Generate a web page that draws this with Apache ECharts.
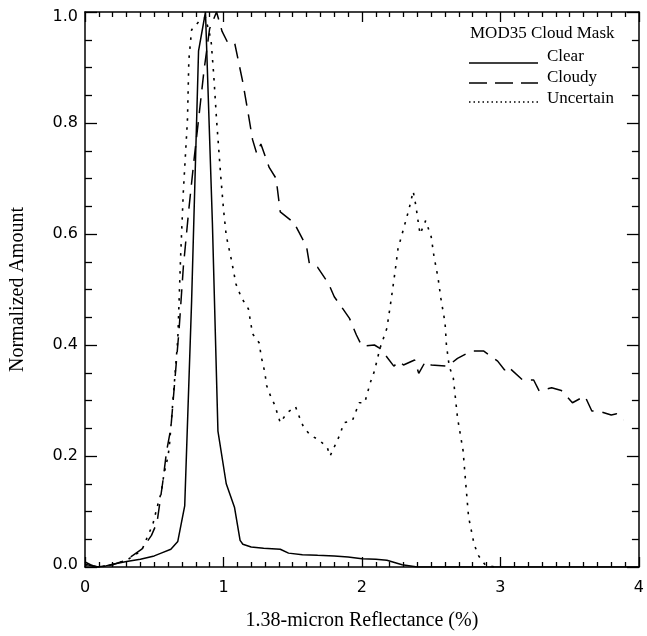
<!DOCTYPE html>
<html>
<head>
<meta charset="utf-8">
<script src="https://cdn.jsdelivr.net/npm/echarts@6/dist/echarts.min.js"></script>
<style>html,body{margin:0;padding:0;background:#fff;}#c{width:647px;height:636px;}</style>
</head>
<body>
<div id="c"></div>
<script>
const xTicks = [0, 1, 2, 3, 4];
const yTicks = [0.0, 0.2, 0.4, 0.6, 0.8, 1.0];
const legendTitle = 'MOD35 Cloud Mask';
const seriesNames = ['Clear', 'Cloudy', 'Uncertain'];

const clearX = [0, 0.04, 0.08, 0.15, 0.2, 0.3, 0.4, 0.5, 0.55, 0.62, 0.67, 0.72, 0.77, 0.82, 0.87, 0.92, 0.96, 1.02, 1.08, 1.12, 1.14, 1.2, 1.29, 1.41, 1.47, 1.57, 1.68, 1.8, 1.9, 2.0, 2.1, 2.18, 2.29, 2.4, 2.6, 2.8, 3.0, 3.5, 4.0];
const clearY = [0.009, 0.004, 0.0, 0.002, 0.005, 0.01, 0.014, 0.02, 0.025, 0.032, 0.046, 0.11, 0.48, 0.93, 1.0, 0.62, 0.245, 0.15, 0.107, 0.048, 0.041, 0.036, 0.034, 0.032, 0.025, 0.022, 0.021, 0.02, 0.018, 0.015, 0.014, 0.012, 0.004, 0.0, 0, 0, 0, 0, 0];

const cloudyX = [0, 0.05, 0.1, 0.2, 0.3, 0.41, 0.48, 0.52, 0.56, 0.59, 0.62, 0.68, 0.71, 0.75, 0.79, 0.82, 0.86, 0.9, 0.95, 0.99, 1.03, 1.08, 1.14, 1.18, 1.21, 1.24, 1.27, 1.33, 1.38, 1.41, 1.51, 1.6, 1.62, 1.68, 1.76, 1.8, 1.86, 1.91, 1.96, 2.0, 2.09, 2.13, 2.16, 2.23, 2.27, 2.3, 2.38, 2.41, 2.46, 2.5, 2.62, 2.69, 2.79, 2.88, 2.98, 3.03, 3.05, 3.16, 3.24, 3.28, 3.37, 3.44, 3.52, 3.61, 3.66, 3.71, 3.8, 3.84, 3.89];
const cloudyY = [0.005, 0.002, 0.0, 0.004, 0.013, 0.032, 0.057, 0.08, 0.15, 0.21, 0.25, 0.43, 0.54, 0.645, 0.74, 0.806, 0.896, 0.97, 1.0, 0.965, 0.945, 0.945, 0.873, 0.815, 0.77, 0.745, 0.762, 0.72, 0.70, 0.64, 0.62, 0.577, 0.547, 0.54, 0.51, 0.487, 0.466, 0.448, 0.418, 0.398, 0.40, 0.394, 0.385, 0.362, 0.371, 0.364, 0.373, 0.349, 0.371, 0.364, 0.362, 0.376, 0.389, 0.389, 0.371, 0.355, 0.362, 0.337, 0.337, 0.317, 0.323, 0.318, 0.296, 0.308, 0.281, 0.281, 0.274, 0.276, 0.265];

const uncertainX = [0, 0.1, 0.2, 0.3, 0.41, 0.45, 0.49, 0.52, 0.55, 0.57, 0.6, 0.61, 0.67, 0.69, 0.71, 0.74, 0.75, 0.77, 0.82, 0.87, 0.91, 0.93, 0.95, 0.98, 1.0, 1.02, 1.06, 1.09, 1.13, 1.18, 1.21, 1.26, 1.27, 1.3, 1.31, 1.34, 1.37, 1.41, 1.46, 1.52, 1.55, 1.58, 1.63, 1.69, 1.75, 1.77, 1.84, 1.87, 1.93, 1.98, 2.02, 2.06, 2.09, 2.13, 2.18, 2.21, 2.24, 2.26, 2.3, 2.34, 2.37, 2.39, 2.41, 2.42, 2.46, 2.5, 2.52, 2.55, 2.57, 2.6, 2.61, 2.63, 2.66, 2.69, 2.73, 2.75, 2.77, 2.81, 2.84, 2.89, 2.96];
const uncertainY = [0.004, 0.0, 0.004, 0.012, 0.03, 0.054, 0.077, 0.107, 0.134, 0.167, 0.2, 0.22, 0.41, 0.556, 0.676, 0.806, 0.914, 0.968, 0.982, 0.99, 0.95, 0.885, 0.806, 0.705, 0.645, 0.597, 0.55, 0.51, 0.485, 0.465, 0.42, 0.403, 0.382, 0.349, 0.328, 0.308, 0.292, 0.26, 0.278, 0.289, 0.269, 0.251, 0.237, 0.229, 0.215, 0.2, 0.238, 0.26, 0.263, 0.296, 0.296, 0.332, 0.353, 0.394, 0.43, 0.48, 0.534, 0.573, 0.609, 0.645, 0.677, 0.65, 0.615, 0.6, 0.624, 0.595, 0.56, 0.52, 0.484, 0.44, 0.4, 0.362, 0.34, 0.269, 0.21, 0.149, 0.09, 0.041, 0.021, 0.004, 0];

const zip = (xs, ys) => xs.map((x, i) => [x, ys[i]]);
const serif = '"Liberation Serif", "DejaVu Serif", serif';
const sans = '"DejaVu Sans", sans-serif';
const black = '#000';

const dashCloudy = [15, 9];
const dotUncertain = [2.5, 6.5];

function xAxisCfg(pos, showLabels) {
  return {
    type: 'value', position: pos, min: 0, max: 4, interval: 1,
    axisLine: { show: true, onZero: false, lineStyle: { color: black, width: 1.5 } },
    axisTick: { show: true, inside: true, length: 10, lineStyle: { color: black, width: 1.3 } },
    minorTick: { show: true, splitNumber: 10, length: 5, lineStyle: { color: black, width: 1.3 } },
    axisLabel: { show: showLabels, color: black, fontFamily: sans, fontSize: 16, margin: 13,
      formatter: v => String(Math.round(v)) },
    splitLine: { show: false }, minorSplitLine: { show: false },
    name: showLabels ? '1.38-micron Reflectance (%)' : '',
    nameLocation: 'middle', nameGap: 44,
    nameTextStyle: { fontFamily: serif, fontSize: 20, color: black }
  };
}
function yAxisCfg(pos, showLabels) {
  return {
    type: 'value', position: pos, min: 0, max: 1, interval: 0.2,
    axisLine: { show: true, onZero: false, lineStyle: { color: black, width: 1.5 } },
    axisTick: { show: true, inside: true, length: 12, lineStyle: { color: black, width: 1.3 } },
    minorTick: { show: true, splitNumber: 4, length: 7, lineStyle: { color: black, width: 1.3 } },
    axisLabel: { show: showLabels, color: black, fontFamily: sans, fontSize: 16, margin: 7,
      formatter: v => v >= 0.999 ? '{top|' + v.toFixed(1) + '}' : (v <= 0.001 ? '{bot|' + v.toFixed(1) + '}' : v.toFixed(1)),
      rich: {
        top: { fontFamily: sans, fontSize: 16, color: black, padding: [10, 0, 0, 0] },
        bot: { fontFamily: sans, fontSize: 16, color: black, padding: [0, 0, 5, 0] }
      } },
    splitLine: { show: false }, minorSplitLine: { show: false },
    name: showLabels ? 'Normalized Amount' : '',
    nameLocation: 'middle', nameGap: 57,
    nameTextStyle: { fontFamily: serif, fontSize: 20, color: black }
  };
}

const chart = echarts.init(document.getElementById('c'), null, { renderer: 'canvas' });

const lx0 = 469, lx1 = 538, ltx = 547;
const legendRows = [
  { y: 63, ty: 57, dash: null },
  { y: 83, ty: 78, dash: [18, 8] },
  { y: 102, ty: 99, dash: [1.5, 3] }
];
const graphics = [
  { type: 'text', x: 470, y: 34, style: { text: legendTitle, font: '17px ' + serif, fill: black, verticalAlign: 'middle' } }
];
legendRows.forEach((r, i) => {
  graphics.push({ type: 'line', shape: { x1: lx0, y1: r.y, x2: lx1, y2: r.y },
    style: { stroke: black, lineWidth: 1.3, lineDash: r.dash } });
  graphics.push({ type: 'text', x: ltx, y: r.ty, style: { text: seriesNames[i], font: '17px ' + serif, fill: black, verticalAlign: 'middle' } });
});

chart.setOption({
  animation: false,
  backgroundColor: '#fff',
  grid: { left: 85, right: 2, top: 12, bottom: 66, containLabel: false },
  xAxis: [xAxisCfg('bottom', true), xAxisCfg('top', false)],
  yAxis: [yAxisCfg('left', true), yAxisCfg('right', false)],
  series: [
    { name: seriesNames[0], type: 'line', data: zip(clearX, clearY), showSymbol: false, symbol: 'none',
      lineStyle: { color: black, width: 1.5, type: 'solid' } },
    { name: seriesNames[1], type: 'line', data: zip(cloudyX, cloudyY), showSymbol: false, symbol: 'none',
      lineStyle: { color: black, width: 1.5, type: dashCloudy } },
    { name: seriesNames[2], type: 'line', data: zip(uncertainX, uncertainY), showSymbol: false, symbol: 'none',
      lineStyle: { color: black, width: 1.6, type: dotUncertain } }
  ],
  graphic: graphics
});
</script>
</body>
</html>
